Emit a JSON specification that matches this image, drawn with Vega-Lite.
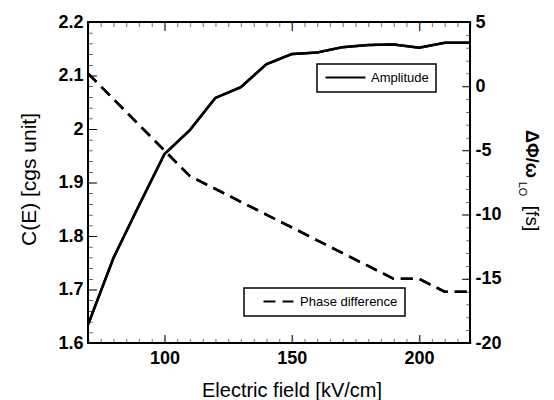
{
  "$schema": "https://vega.github.io/schema/vega-lite/v6.json",
  "width": 382,
  "height": 321,
  "autosize": "none",
  "padding": {"left": 88, "top": 22, "right": 84, "bottom": 57},
  "background": "white",
  "config": {
    "font": "Liberation Sans",
    "view": {"stroke": "black", "strokeWidth": 2},
    "axis": {
      "domain": false,
      "ticks": false,
      "grid": false,
      "zindex": 1,
      "labelFont": "Liberation Sans",
      "labelFontWeight": "bold",
      "labelFontSize": 18,
      "labelColor": "black",
      "titleFont": "Liberation Sans",
      "titleFontWeight": "normal",
      "titleColor": "black",
      "labelFlush": false,
      "labelOverlap": false,
      "labelBound": false
    },
    "legend": {
      "title": null,
      "orient": "none",
      "strokeColor": "black",
      "strokeWidth": 1.5,
      "fillColor": "white",
      "padding": 7,
      "symbolSize": 100,
      "symbolStrokeWidth": 2,
      "symbolStrokeColor": "black",
      "symbolFillColor": "transparent",
      "labelFontSize": 13,
      "labelFont": "Liberation Sans",
      "labelColor": "black"
    }
  },
  "data": {
    "values": [
      {"E": 70, "C": 1.634, "P": 1.0},
      {"E": 80, "C": 1.759, "P": -1.0},
      {"E": 90, "C": 1.857, "P": -3.0},
      {"E": 100, "C": 1.953, "P": -5.0},
      {"E": 110, "C": 1.998, "P": -7.0},
      {"E": 120, "C": 2.058, "P": -8.0},
      {"E": 130, "C": 2.078, "P": -9.0},
      {"E": 140, "C": 2.121, "P": -10.0},
      {"E": 150, "C": 2.140, "P": -11.0},
      {"E": 160, "C": 2.143, "P": -12.0},
      {"E": 170, "C": 2.153, "P": -13.0},
      {"E": 180, "C": 2.157, "P": -14.0},
      {"E": 190, "C": 2.158, "P": -15.0},
      {"E": 200, "C": 2.152, "P": -15.0},
      {"E": 210, "C": 2.161, "P": -16.0},
      {"E": 220, "C": 2.161, "P": -16.0}
    ]
  },
  "layer": [
    {
      "mark": {"type": "line", "color": "black", "strokeWidth": 2.5, "clip": true},
      "encoding": {
        "x": {
          "field": "E", "type": "quantitative",
          "scale": {"domain": [70, 220], "nice": false, "zero": false},
          "axis": {
            "orient": "bottom",
            "title": "Electric field [kV/cm]",
            "titleFontSize": 20,
            "titleX": 203.5, "titleY": 53.7, "titleAlign": "center", "titleBaseline": "alphabetic",
            "values": [100, 150, 200],
            "labelPadding": 6
          }
        },
        "y": {
          "field": "C", "type": "quantitative",
          "scale": {"domain": [1.6, 2.2], "nice": false, "zero": false},
          "axis": {
            "orient": "left",
            "title": "C(E) [cgs unit]",
            "titleFontSize": 21,
            "titleAngle": -90,
            "titleX": -59, "titleY": 157, "titleAlign": "center", "titleBaseline": "middle",
            "values": [1.6, 1.7, 1.8, 1.9, 2.0, 2.1, 2.2],
            "labelExpr": "format(datum.value, '.1~f')",
            "labelPadding": 5
          }
        },
        "strokeDash": {
          "datum": "Amplitude",
          "scale": {"domain": ["Amplitude"], "range": [[1, 0]]},
          "legend": {
            "legendX": 229, "legendY": 42,
            "symbolType": "M-1,0H7",
            "labelOffset": 34
          }
        }
      }
    },
    {
      "mark": {"type": "line", "color": "black", "strokeWidth": 2.5, "clip": true},
      "encoding": {
        "x": {
          "field": "E", "type": "quantitative",
          "axis": {
            "orient": "top",
            "title": "LO",
            "titleFontSize": 11,
            "titleFontWeight": "normal",
            "titleAngle": 90,
            "titleX": 430, "titleY": 166.5, "titleAlign": "center", "titleBaseline": "alphabetic",
            "values": [70,75,80,85,90,95,100,105,110,115,120,125,130,135,140,145,150,155,160,165,170,175,180,185,190,195,200,205,210,215,220],
            "labelExpr": "'|'",
            "labelAlign": "center",
            "labelBaseline": "alphabetic",
            "labelFontSize": {"condition": {"test": "datum.value % 50 === 0", "value": 8.5}, "value": 4.5},
            "labelPadding": {"condition": {"test": "datum.value % 50 === 0", "value": -6.2}, "value": -3.3}
          }
        },
        "y": {
          "field": "P", "type": "quantitative",
          "scale": {"domain": [-20, 5], "nice": false, "zero": false},
          "axis": {
            "orient": "right",
            "title": "ΔΦ/ω",
            "titleFontSize": 18,
            "titleFontWeight": "bold",
            "titleAngle": 90,
            "titleX": 55, "titleY": 131.5, "titleAlign": "center", "titleBaseline": "alphabetic",
            "values": [-20, -15, -10, -5, 0, 5],
            "labelExpr": "'' + datum.value",
            "labelPadding": 5
          }
        },
        "strokeDash": {
          "datum": "Phase difference",
          "scale": {"domain": ["Phase difference"], "range": [[12, 7]]},
          "legend": {
            "legendX": 156, "legendY": 266,
            "symbolType": "M1.2,0H7.2",
            "labelOffset": 36
          }
        }
      }
    },
    {
      "mark": {"type": "line", "color": "black", "strokeWidth": 2.5, "clip": true},
      "encoding": {
        "x": {
          "field": "E", "type": "quantitative",
          "axis": {
            "orient": "bottom",
            "title": null,
            "values": [70,75,80,85,90,95,100,105,110,115,120,125,130,135,140,145,150,155,160,165,170,175,180,185,190,195,200,205,210,215,220],
            "labelExpr": "'|'",
            "labelAlign": "center",
            "labelBaseline": "alphabetic",
            "labelFontSize": {"condition": {"test": "datum.value % 50 === 0", "value": 8.5}, "value": 4.5},
            "labelPadding": {"condition": {"test": "datum.value % 50 === 0", "value": -1.8}, "value": -0.95}
          }
        },
        "y": {
          "field": "C", "type": "quantitative",
          "scale": {"domain": [1.6, 2.2], "nice": false, "zero": false},
          "axis": {
            "orient": "left",
            "title": null,
            "values": [1.6,1.62,1.64,1.66,1.68,1.7,1.72,1.74,1.76,1.78,1.8,1.82,1.84,1.86,1.88,1.9,1.92,1.94,1.96,1.98,2.0,2.02,2.04,2.06,2.08,2.1,2.12,2.14,2.16,2.18,2.2],
            "labelExpr": "'|'",
            "labelAngle": 90,
            "labelAlign": "center",
            "labelBaseline": "alphabetic",
            "labelFontSize": {"condition": {"test": "abs(datum.value*10 - round(datum.value*10)) < 0.001", "value": 8.5}, "value": 4.5},
            "labelPadding": {"condition": {"test": "abs(datum.value*10 - round(datum.value*10)) < 0.001", "value": -1.8}, "value": -0.95}
          }
        }
      }
    },
    {
      "mark": {"type": "line", "color": "black", "strokeWidth": 2.5, "strokeDash": [12, 7], "clip": true},
      "encoding": {
        "x": {
          "field": "E", "type": "quantitative",
          "axis": null
        },
        "y": {
          "field": "P", "type": "quantitative",
          "scale": {"domain": [-20, 5], "nice": false, "zero": false},
          "axis": {
            "orient": "right",
            "title": "[fs]",
            "titleFontSize": 19,
            "titleFontWeight": "normal",
            "titleAngle": 90,
            "titleX": 55, "titleY": 196, "titleAlign": "center", "titleBaseline": "alphabetic",
            "values": [-20,-19,-18,-17,-16,-15,-14,-13,-12,-11,-10,-9,-8,-7,-6,-5,-4,-3,-2,-1,0,1,2,3,4,5],
            "labelExpr": "'|'",
            "labelAngle": 270,
            "labelAlign": "center",
            "labelBaseline": "alphabetic",
            "labelFontSize": {"condition": {"test": "datum.value % 5 === 0", "value": 8.5}, "value": 4.5},
            "labelPadding": {"condition": {"test": "datum.value % 5 === 0", "value": -1.8}, "value": -0.95}
          }
        }
      }
    }
  ],
  "resolve": {
    "scale": {"y": "independent", "strokeDash": "independent"},
    "axis": {"x": "independent", "y": "independent"},
    "legend": {"strokeDash": "independent"}
  }
}
